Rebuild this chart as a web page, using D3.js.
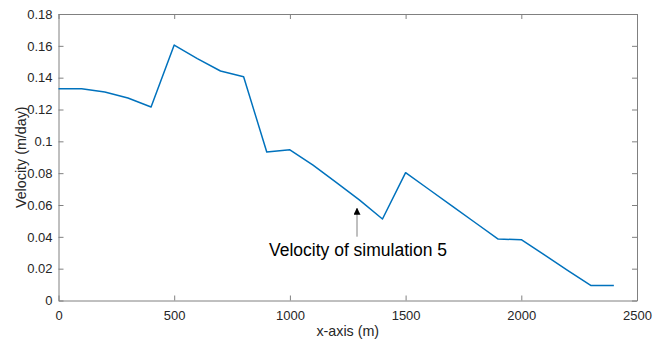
<!DOCTYPE html>
<html>
<head>
<meta charset="utf-8">
<script src="https://cdn.jsdelivr.net/npm/d3@7"></script>
<style>
  body { margin: 0; background: #fff; }
  svg text { font-family: "Liberation Sans", Arial, sans-serif; }
  .axis text { fill: #262626; font-size: 13px; }
  .axis line, .axis path { stroke: #808080; }
</style>
</head>
<body>
<div id="chart"></div>
<script>
const xValues = [0, 100, 200, 300, 400, 500, 600, 700, 800, 900, 1000, 1100, 1200, 1300,
  1400, 1500, 1600, 1700, 1800, 1900, 2000, 2100, 2200, 2300, 2400];
const velocity = [0.133, 0.133, 0.131, 0.1272, 0.1216, 0.1605, 0.152, 0.1442, 0.1406, 0.0933,
  0.0947, 0.085, 0.0742, 0.0632, 0.0512, 0.0803, 0.0699, 0.0595, 0.049, 0.0386,
  0.0382, 0.0286, 0.019, 0.0095, 0.0095];
const xTicks = [0, 500, 1000, 1500, 2000, 2500];
const yTicks = [0, 0.02, 0.04, 0.06, 0.08, 0.1, 0.12, 0.14, 0.16, 0.18];
const annotation = { text: "Velocity of simulation 5", x: 1290, yHead: 0.0579, yTail: 0.0401 };

const W = 662, H = 340;
const margin = { top: 14, right: 25, bottom: 39.5, left: 58.5 };
const width = W - margin.left - margin.right;
const height = H - margin.top - margin.bottom;

const svg = d3.select("#chart").append("svg")
  .attr("width", W)
  .attr("height", H);

const defs = svg.append("defs");
defs.append("marker")
  .attr("id", "head")
  .attr("viewBox", "0 0 10 10")
  .attr("refX", 9).attr("refY", 5)
  .attr("markerWidth", 7).attr("markerHeight", 7)
  .attr("markerUnits", "userSpaceOnUse")
  .attr("orient", "auto")
  .append("path")
  .attr("d", "M0,0 L10,5 L0,10 z")
  .attr("fill", "#000");

const g = svg.append("g").attr("transform", `translate(${margin.left},${margin.top})`);

const x = d3.scaleLinear().domain([0, 2500]).range([0, width]);
const y = d3.scaleLinear().domain([0, 0.18]).range([height, 0]);
const fmtY = d => d === 0 ? "0" : d3.format("")(+d.toFixed(2));

// axes (MATLAB box style, inward ticks)
g.append("g").attr("class", "axis")
  .attr("transform", `translate(0,${height})`)
  .call(d3.axisBottom(x).tickValues(xTicks).tickSize(-5).tickSizeOuter(0).tickPadding(10).tickFormat(d3.format("d")));
g.append("g").attr("class", "axis")
  .call(d3.axisLeft(y).tickValues(yTicks).tickSize(-5).tickSizeOuter(0).tickPadding(6).tickFormat(fmtY));
g.append("g").attr("class", "axis")
  .call(d3.axisTop(x).tickValues(xTicks).tickSize(-5).tickSizeOuter(0).tickFormat(""));
g.append("g").attr("class", "axis")
  .attr("transform", `translate(${width},0)`)
  .call(d3.axisRight(y).tickValues(yTicks).tickSize(-5).tickSizeOuter(0).tickFormat(""));

const line = d3.line()
  .x((d, i) => x(xValues[i]))
  .y(d => y(d));

g.append("path")
  .datum(velocity)
  .attr("fill", "none")
  .attr("stroke", "#0072BD")
  .attr("stroke-width", 1.5)
  .attr("stroke-linejoin", "round")
  .attr("d", line);

// annotation arrow + text
g.append("line")
  .attr("x1", x(annotation.x)).attr("y1", y(annotation.yTail))
  .attr("x2", x(annotation.x)).attr("y2", y(annotation.yHead))
  .attr("stroke", "#808080")
  .attr("stroke-width", 1)
  .attr("marker-end", "url(#head)");

g.append("text")
  .attr("x", 358 - margin.left)
  .attr("y", 256 - margin.top)
  .attr("text-anchor", "middle")
  .attr("font-size", 17.5)
  .attr("fill", "#000")
  .text(annotation.text);

// axis labels
svg.append("text")
  .attr("x", margin.left + width / 2)
  .attr("y", 336)
  .attr("text-anchor", "middle")
  .attr("font-size", 14.3)
  .attr("fill", "#262626")
  .text("x-axis (m)");

svg.append("text")
  .attr("transform", `translate(25.5,${margin.top + height / 2}) rotate(-90)`)
  .attr("text-anchor", "middle")
  .attr("font-size", 14.3)
  .attr("fill", "#262626")
  .text("Velocity (m/day)");
</script>
</body>
</html>
